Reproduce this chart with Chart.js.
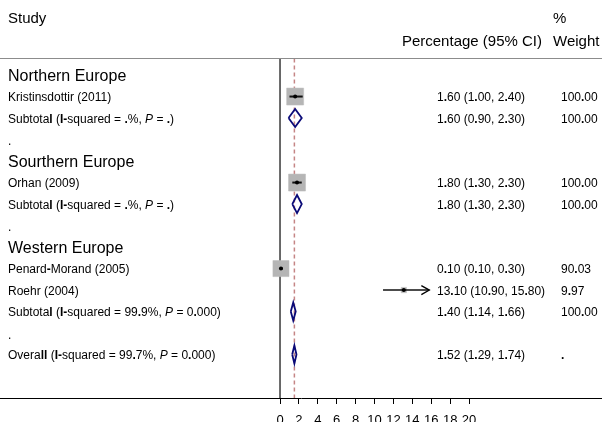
<!DOCTYPE html>
<html><head><meta charset="utf-8">
<script src="https://cdn.jsdelivr.net/npm/chart.js@4/dist/chart.umd.min.js"></script>
<style>html,body{margin:0;padding:0;background:#fff}canvas{display:block}</style>
</head><body>
<canvas id="c" width="602" height="422"></canvas>
<script>
// Individual studies (row = line position from the top of the table)
const studyLabels = ['Kristinsdottir (2011)', 'Orhan (2009)', 'Penard**-**Morand (2005)', 'Roehr (2004)'];
const studyRows = [1, 5, 9, 10];
const studyEst = [1.60, 1.80, 0.10, 13.10];
const studyLo = [1.00, 1.30, 0.10, 10.90];
const studyHi = [2.40, 2.30, 0.30, 15.80];
const studyWeight = [100.00, 100.00, 90.03, 9.97];
const studyArrow = [false, false, false, true];

// Pooled estimates (subtotals and overall)
const pooledLabels = [
  'Subtota**l** (**I-**squared = **.**%, //P// = **.**)',
  'Subtota**l** (**I-**squared = **.**%, //P// = **.**)',
  'Subtota**l** (**I-**squared = 99**.**9%, //P// = 0**.**000)',
  'Overa**ll** (**I-**squared = 99**.**7%, //P// = 0**.**000)'
];
const pooledRows = [2, 6, 11, 13];
const pooledEst = [1.60, 1.80, 1.40, 1.52];
const pooledLo = [0.90, 1.30, 1.14, 1.29];
const pooledHi = [2.30, 2.30, 1.66, 1.74];
const pooledWeight = ['100.00', '100.00', '100.00', '.'];

// Region headings and blank separator lines
const groupLabels = ['Northern Europe', 'Sourthern Europe', 'Western Europe'];
const groupRows = [0, 4, 8];
const spacerRows = [3, 7, 12];

const overallEst = 1.52;
const xTicks = [0, 2, 4, 6, 8, 10, 12, 14, 16, 18, 20];

// Layout of the table in row units
const X_MIN = -29.63, X_MAX = 34.07;
const Y_MIN = -3.49, Y_MAX = 15.02;
const RULE_ROW = -0.77;
const HEAD1_ROW = -2.70, HEAD2_ROW = -1.63;
const DIAMOND_HALF = 0.42;
const TEXT_NUDGE = 1.5;

const FONT = '"Liberation Sans", Arial, Helvetica, sans-serif';

const fmt = v => v.toFixed(2);
const boldDots = s => s.replace(/\./g, '**.**');

function drawRich(ctx, text, x, y, size, align) {
  const parts = text.split(/(\*\*.+?\*\*|\/\/.+?\/\/)/).filter(p => p.length);
  const segs = parts.map(p => {
    if (p.startsWith('**')) return { t: p.slice(2, -2), f: 'bold ' + size + 'px ' + FONT };
    if (p.startsWith('//')) return { t: p.slice(2, -2), f: 'italic ' + size + 'px ' + FONT };
    return { t: p, f: size + 'px ' + FONT };
  });
  let total = 0;
  segs.forEach(s => { ctx.font = s.f; s.w = ctx.measureText(s.t).width; total += s.w; });
  let cx = align === 'right' ? x - total : x;
  ctx.textAlign = 'left';
  ctx.textBaseline = 'middle';
  segs.forEach(s => { ctx.font = s.f; ctx.fillText(s.t, cx, y + TEXT_NUDGE); cx += s.w; });
}

const tablePlugin = {
  id: 'forestTable',
  afterDatasetsDraw(chart) {
    const ctx = chart.ctx;
    const xs = chart.scales.x, ys = chart.scales.y;
    const py = r => ys.getPixelForValue(r);
    ctx.save();
    ctx.fillStyle = '#000';

    // header rule
    ctx.strokeStyle = '#8c8c8c';
    ctx.lineWidth = 1;
    ctx.beginPath();
    ctx.moveTo(chart.chartArea.left, Math.round(py(RULE_ROW)) + 0.5);
    ctx.lineTo(chart.chartArea.right, Math.round(py(RULE_ROW)) + 0.5);
    ctx.stroke();

    // column headings
    drawRich(ctx, 'Study', 8, py(HEAD1_ROW), 15, 'left');
    drawRich(ctx, '%', 553, py(HEAD1_ROW), 15, 'left');
    drawRich(ctx, 'Percentage (95% CI)', 542, py(HEAD2_ROW), 15, 'right');
    drawRich(ctx, 'Weight', 553, py(HEAD2_ROW), 15, 'left');

    groupLabels.forEach((g, i) => drawRich(ctx, g, 8, py(groupRows[i]), 16, 'left'));
    spacerRows.forEach(r => drawRich(ctx, '.', 8, py(r) + 1, 12, 'left'));

    studyLabels.forEach((s, i) => {
      const y = py(studyRows[i]);
      drawRich(ctx, s, 8, y, 12, 'left');
      drawRich(ctx, boldDots(fmt(studyEst[i]) + ' (' + fmt(studyLo[i]) + ', ' + fmt(studyHi[i]) + ')'), 437, y, 12, 'left');
      drawRich(ctx, boldDots(fmt(studyWeight[i])), 561, y, 12, 'left');
      if (studyArrow[i]) {
        const tx = xs.getPixelForValue(studyHi[i]);
        ctx.strokeStyle = '#000';
        ctx.lineWidth = 1.3;
        ctx.beginPath();
        ctx.moveTo(tx - 8, y - 4.5);
        ctx.lineTo(tx, y);
        ctx.lineTo(tx - 8, y + 4.5);
        ctx.stroke();
      }
    });

    pooledLabels.forEach((s, i) => {
      const y = py(pooledRows[i]);
      drawRich(ctx, s, 8, y, 12, 'left');
      drawRich(ctx, boldDots(fmt(pooledEst[i]) + ' (' + fmt(pooledLo[i]) + ', ' + fmt(pooledHi[i]) + ')'), 437, y, 12, 'left');
      drawRich(ctx, boldDots(pooledWeight[i]), 561, y, 12, 'left');
    });
    ctx.restore();
  }
};

const datasets = [];

// reference lines: no effect (0) and overall estimate
datasets.push({
  data: [{ x: 0, y: RULE_ROW }, { x: 0, y: Y_MAX }],
  showLine: true, borderColor: '#3a3a3a', borderWidth: 1.5, pointRadius: 0, order: 10
});
datasets.push({
  data: [{ x: overallEst, y: RULE_ROW }, { x: overallEst, y: Y_MAX }],
  showLine: true, borderColor: '#c58585', borderWidth: 1.5, borderDash: [4, 3], pointRadius: 0, order: 9
});

// weight boxes (area proportional to weight)
datasets.push({
  data: studyEst.map((v, i) => ({ x: v, y: studyRows[i] })),
  pointStyle: 'rect',
  pointRadius: studyWeight.map(w => 17 * Math.sqrt(w / 100) / Math.SQRT2),
  backgroundColor: '#b5b5b5', borderColor: '#bdbdbd', borderWidth: 0.5, order: 8
});

// confidence intervals
studyEst.forEach((v, i) => {
  datasets.push({
    data: [{ x: studyLo[i], y: studyRows[i] }, { x: studyHi[i], y: studyRows[i] }],
    showLine: true, borderColor: '#111', borderWidth: studyWeight[i] > 50 ? 2 : 1.5, pointRadius: 0, order: 7
  });
});

// point estimates
datasets.push({
  data: studyEst.map((v, i) => ({ x: v, y: studyRows[i] })),
  pointStyle: 'circle', pointRadius: 2, backgroundColor: '#000', borderColor: '#000', borderWidth: 0, order: 6
});

// pooled diamonds
pooledEst.forEach((v, i) => {
  const r = pooledRows[i];
  datasets.push({
    data: [
      { x: pooledLo[i], y: r }, { x: v, y: r - DIAMOND_HALF },
      { x: pooledHi[i], y: r }, { x: v, y: r + DIAMOND_HALF }, { x: pooledLo[i], y: r }
    ],
    showLine: true, borderColor: '#0a0a78', borderWidth: 1.8, borderJoinStyle: 'miter',
    pointRadius: 0, tension: 0, order: 5
  });
});

new Chart(document.getElementById('c'), {
  type: 'scatter',
  data: { datasets },
  options: {
    responsive: false,
    animation: false,
    layout: { padding: 0, autoPadding: false },
    plugins: { legend: { display: false }, tooltip: { enabled: false } },
    scales: {
      x: {
        type: 'linear', min: X_MIN, max: X_MAX,
        afterBuildTicks: s => { s.ticks = xTicks.map(v => ({ value: v })); },
        afterFit: s => { s.height = 24; },
        grid: { drawOnChartArea: false, drawTicks: true, tickLength: 6, color: '#000', tickWidth: 1 },
        border: { display: true, color: '#000', width: 1 },
        ticks: { color: '#000', padding: 9, maxRotation: 0, autoSkip: false, font: { family: FONT, size: 13 } }
      },
      y: { type: 'linear', display: false, min: Y_MIN, max: Y_MAX, reverse: true }
    }
  },
  plugins: [tablePlugin]
});
</script>
</body></html>
